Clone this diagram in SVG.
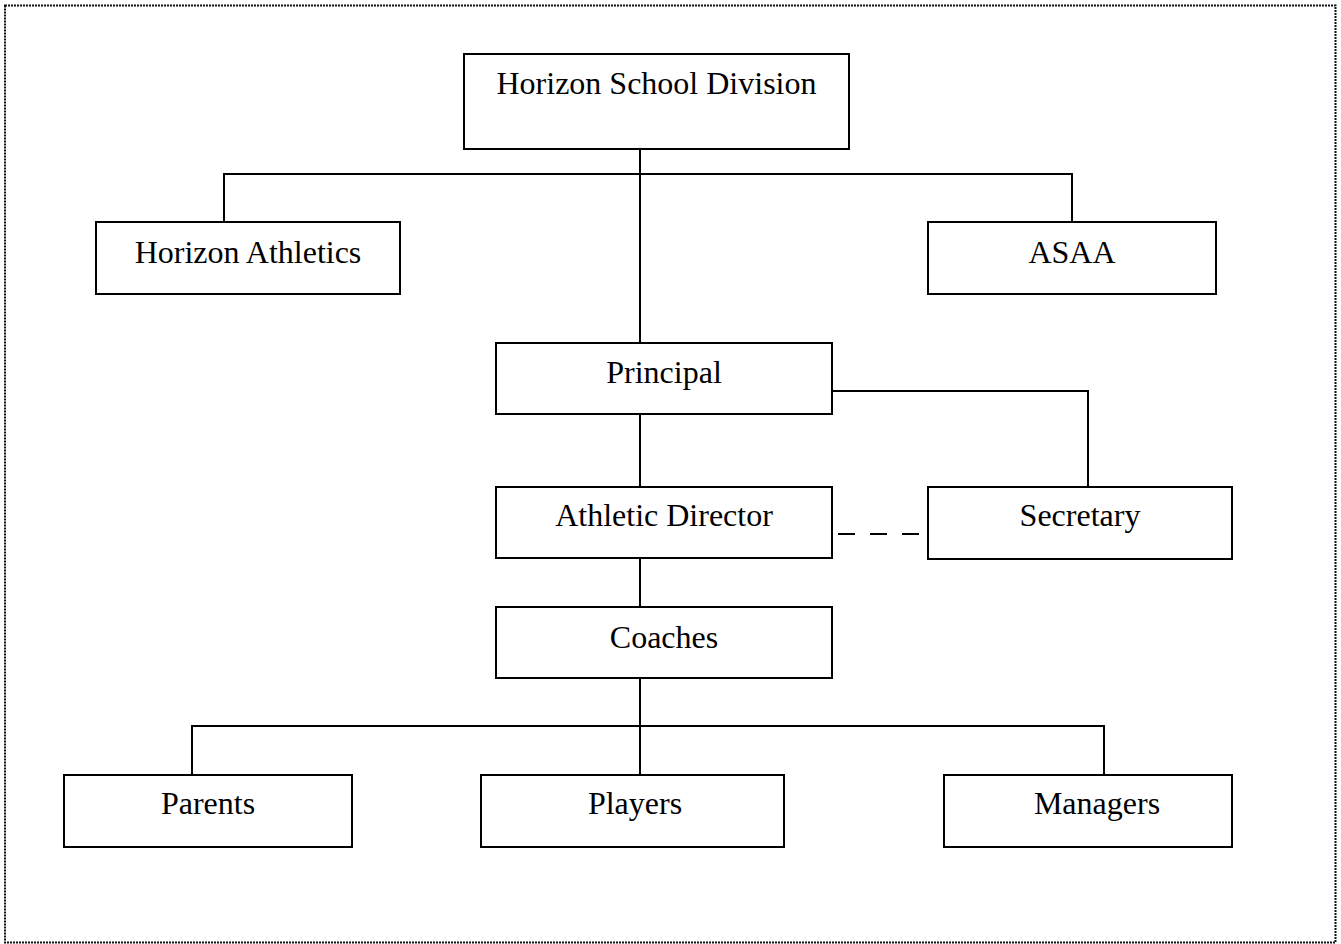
<svg xmlns="http://www.w3.org/2000/svg" width="1341" height="944" viewBox="0 0 1341 944">
<style>
.box{fill:#fff;stroke:#000;stroke-width:2}
.lbl{font-family:"Liberation Serif","Times New Roman",serif;font-size:32px;fill:#000;text-anchor:middle}
.c{fill:none;stroke:#000;stroke-width:2}
</style>
<rect x="0" y="0" width="1341" height="944" fill="#fff"/>
<rect x="5" y="5.5" width="1330.5" height="937" fill="none" stroke="#111" stroke-width="2" stroke-dasharray="2 1"/>
<g id="connectors">
<path class="c" d="M640 149V343"/>
<path class="c" d="M224 222V174H1072V222"/>
<path class="c" d="M832 391H1088V487"/>
<path class="c" d="M640 414V487"/>
<path class="c" d="M640 558V607"/>
<path class="c" d="M640 678V775"/>
<path class="c" d="M192 775V726H1104V775"/>
<path class="c" d="M838 534H920" stroke-dasharray="17 15"/>
</g>
<g id="horizon-school-division"><rect class="box" x="464" y="54" width="385" height="95"/><text class="lbl" x="656.5" y="94">Horizon School Division</text></g>
<g id="horizon-athletics"><rect class="box" x="96" y="222" width="304" height="72"/><text class="lbl" x="248" y="263">Horizon Athletics</text></g>
<g id="asaa"><rect class="box" x="928" y="222" width="288" height="72"/><text class="lbl" x="1072" y="263">ASAA</text></g>
<g id="principal"><rect class="box" x="496" y="343" width="336" height="71"/><text class="lbl" x="664" y="383">Principal</text></g>
<g id="athletic-director"><rect class="box" x="496" y="487" width="336" height="71"/><text class="lbl" x="664" y="526">Athletic Director</text></g>
<g id="secretary"><rect class="box" x="928" y="487" width="304" height="72"/><text class="lbl" x="1080" y="526">Secretary</text></g>
<g id="coaches"><rect class="box" x="496" y="607" width="336" height="71"/><text class="lbl" x="664" y="648">Coaches</text></g>
<g id="parents"><rect class="box" x="64" y="775" width="288" height="72"/><text class="lbl" x="208" y="814">Parents</text></g>
<g id="players"><rect class="box" x="481" y="775" width="303" height="72"/><text class="lbl" x="635" y="814">Players</text></g>
<g id="managers"><rect class="box" x="944" y="775" width="288" height="72"/><text class="lbl" x="1097" y="814">Managers</text></g>
</svg>
